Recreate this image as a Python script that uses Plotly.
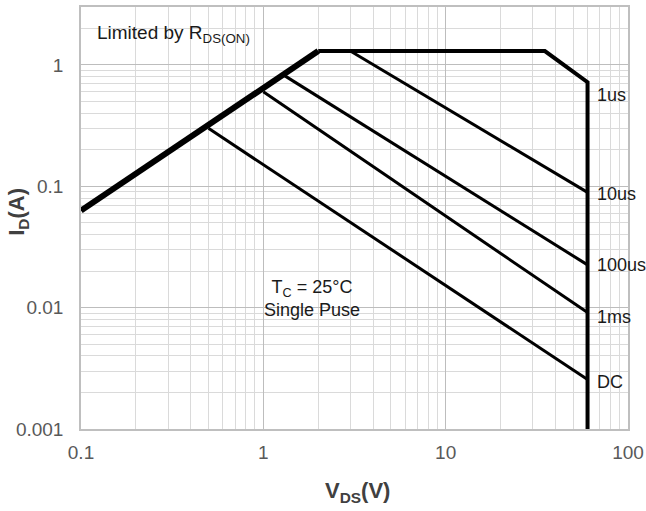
import math
import plotly.graph_objects as go

# --- data ---
rds_x = [0.1, 2]
rds_y = [0.063, 1.3]

bound_x = [2, 35, 60, 60]
bound_y = [1.3, 1.3, 0.72, 0.001]

us10_x = [3, 60]
us10_y = [1.3, 0.089]
us100_x = [1.3, 60]
us100_y = [0.82, 0.0225]
ms1_x = [1.0, 60]
ms1_y = [0.6, 0.0091]
dc_x = [0.5, 60]
dc_y = [0.30, 0.00256]

label_text = ["1us", "10us", "100us", "1ms", "DC"]
label_y = [0.57, 0.087, 0.0225, 0.0083, 0.00245]
label_x = 60

x_tickvals = [0.1, 1, 10, 100]
x_ticktext = ["0.1", "1", "10", "100"]
y_tickvals = [0.001, 0.01, 0.1, 1]
y_ticktext = ["0.001", "0.01", "0.1", "1"]

# minor grid positions: 2..9 within each decade
x_minor = [m * d for d in [0.1, 1, 10] for m in range(2, 10)]
y_minor = [m * d for d in [0.001, 0.01, 0.1, 1] for m in range(2, 10)]

FONT = "Liberation Sans, Arial, sans-serif"

fig = go.Figure()

def add_line(x, y, w):
    fig.add_trace(go.Scatter(x=x, y=y, mode="lines",
                             line=dict(color="black", width=w),
                             showlegend=False, hoverinfo="skip"))

add_line(dc_x, dc_y, 3)
add_line(ms1_x, ms1_y, 3)
add_line(us100_x, us100_y, 3)
add_line(us10_x, us10_y, 3)
add_line(bound_x, bound_y, 4)
add_line(rds_x, rds_y, 6)

# annotations on log axes take log10 coordinates
for t, yv in zip(label_text, label_y):
    fig.add_annotation(x=math.log10(label_x), y=math.log10(yv), xref="x", yref="y",
                       text=t, showarrow=False, xanchor="left", yanchor="middle",
                       xshift=7, font=dict(family=FONT, size=18, color="#1a1a1a"))

fig.add_annotation(xref="paper", yref="paper", x=0.026, y=0.937,
                   text="Limited by R<sub>DS(ON)</sub>", showarrow=False,
                   xanchor="left", yanchor="middle",
                   font=dict(family=FONT, size=19, color="#1a1a1a"))
fig.add_annotation(xref="paper", yref="paper", x=0.422, y=0.309,
                   text="T<sub>C</sub> = 25°C<br>Single Puse", showarrow=False,
                   xanchor="center", yanchor="middle", align="center",
                   font=dict(family=FONT, size=18, color="#1a1a1a"))

# axis titles
fig.add_annotation(xref="paper", yref="paper", x=0.505, y=-0.149,
                   text="<b>V<sub>DS</sub>(V)</b>", showarrow=False,
                   xanchor="center", yanchor="middle",
                   font=dict(family=FONT, size=22, color="#404040"))
fig.add_annotation(xref="paper", yref="paper", x=-0.115, y=0.515,
                   text="<b>I<sub>D</sub>(A)</b>", showarrow=False, textangle=-90,
                   xanchor="center", yanchor="middle",
                   font=dict(family=FONT, size=22, color="#404040"))

axis_common = dict(
    type="log", showgrid=True, gridcolor="#bdbdbd", gridwidth=1,
    showline=True, linecolor="#bfbfbf", linewidth=1.5, mirror=True,
    zeroline=False, ticks="",
    tickfont=dict(family=FONT, size=19, color="#595959"),
)

fig.update_xaxes(range=[-1, 2], tickmode="array", tickvals=x_tickvals,
                 ticktext=x_ticktext, ticklabelstandoff=5,
                 minor=dict(tickmode="array", tickvals=x_minor, showgrid=True,
                            gridcolor="#dadada", gridwidth=1, ticks=""),
                 **axis_common)
fig.update_yaxes(range=[-3, 0.4771], tickmode="array", tickvals=y_tickvals,
                 ticktext=y_ticktext, ticklabelstandoff=12,
                 minor=dict(tickmode="array", tickvals=y_minor, showgrid=True,
                            gridcolor="#dadada", gridwidth=1, ticks=""),
                 **axis_common)

fig.update_layout(
    width=646, height=511,
    margin=dict(l=81, r=18, t=7, b=82, autoexpand=False),
    plot_bgcolor="white", paper_bgcolor="white",
    showlegend=False,
)

fig.write_html("out.html")
